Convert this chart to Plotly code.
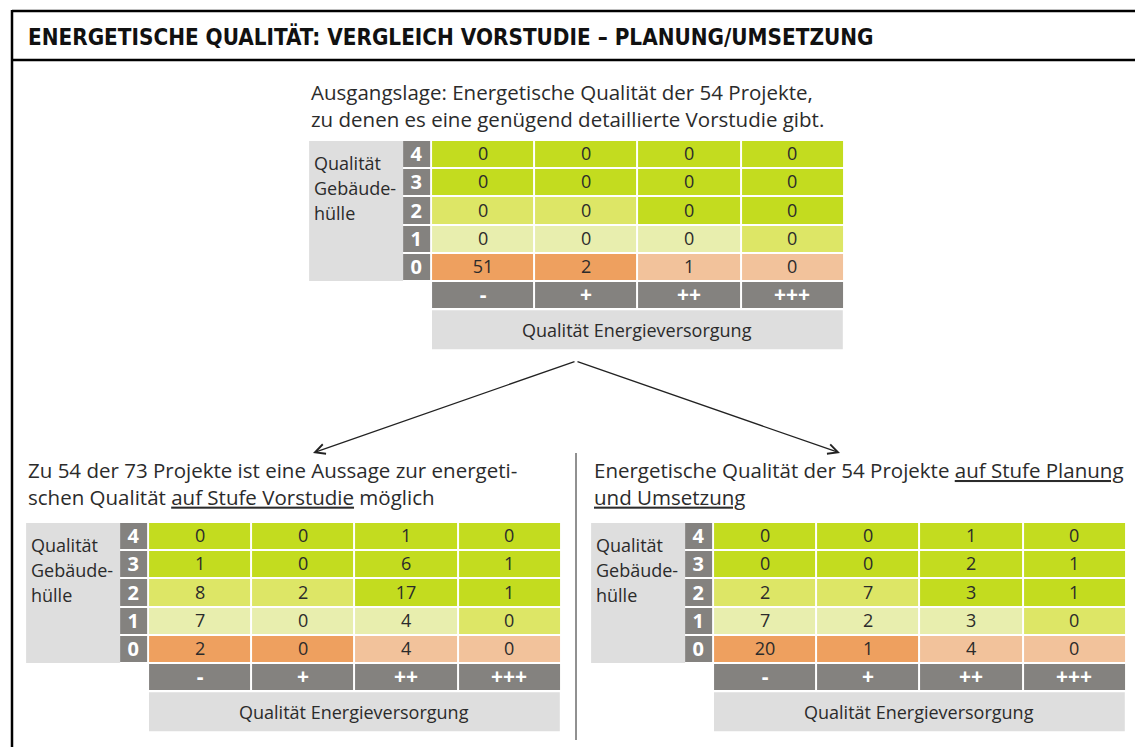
import plotly.graph_objects as go

W, H = 1135, 747

# ---------------- data ----------------
energy_levels = ["-", "+", "++", "+++"]          # Qualität Energieversorgung
envelope_levels = ["4", "3", "2", "1", "0"]      # Qualität Gebäudehülle (top -> bottom)

# counts, rows top (4) -> bottom (0), columns "-", "+", "++", "+++"
counts_ausgangslage = [
    [0, 0, 0, 0],
    [0, 0, 0, 0],
    [0, 0, 0, 0],
    [0, 0, 0, 0],
    [51, 2, 1, 0],
]
counts_vorstudie = [
    [0, 0, 1, 0],
    [1, 0, 6, 1],
    [8, 2, 17, 1],
    [7, 0, 4, 0],
    [2, 0, 4, 0],
]
counts_planung = [
    [0, 0, 1, 0],
    [0, 0, 2, 1],
    [2, 7, 3, 1],
    [7, 2, 3, 0],
    [20, 1, 4, 0],
]

# quality class of each cell (0 = poor ... 4 = very good), same layout
quality_class = [
    [4, 4, 4, 4],
    [4, 4, 4, 4],
    [3, 3, 4, 4],
    [2, 2, 2, 3],
    [0, 0, 1, 1],
]

title_text = "ENERGETISCHE QUALITÄT: VERGLEICH VORSTUDIE – PLANUNG/UMSETZUNG"
caption_top = ["Ausgangslage: Energetische Qualität der 54 Projekte,",
               "zu denen es eine genügend detaillierte Vorstudie gibt."]
caption_left = ["Zu 54 der 73 Projekte ist eine Aussage zur energeti-",
                "schen Qualität <span style='text-decoration:underline'>auf Stufe Vorstudie</span> möglich"]
caption_right = ["Energetische Qualität der 54 Projekte <span style='text-decoration:underline'>auf Stufe Planung</span>",
                 "<span style='text-decoration:underline'>und Umsetzung</span>"]
y_axis_label = ["Qualität", "Gebäude-", "hülle"]
x_axis_label = "Qualität Energieversorgung"

# ---------------- style ----------------
C_ORANGE = "#eea05f"
C_LORANGE = "#f2c29b"
C_LGREEN = "#e8eeae"
C_MGREEN = "#dde666"
C_GREEN = "#c3dc1f"
C_DGRAY = "#84827f"
C_LGRAY = "#dedede"
C_TEXT = "#2b2b2b"
FONT = "Open Sans, Noto Sans, DejaVu Sans, sans-serif"
TITLE_FONT = "DejaVu Sans Condensed, DejaVu Sans, sans-serif"

class_scale = [
    [0.0, C_ORANGE], [0.2, C_ORANGE],
    [0.2, C_LORANGE], [0.4, C_LORANGE],
    [0.4, C_LGREEN], [0.6, C_LGREEN],
    [0.6, C_MGREEN], [0.8, C_MGREEN],
    [0.8, C_GREEN], [1.0, C_GREEN],
]

PITCH_X = 103.2
PITCH_Y = 28.2
LBL_W = 0.28
GRAY_W = 94


def fx(x):
    return x / W


def fy(y):
    return 1 - y / H


fig = go.Figure()
shapes = []
annotations = []

tables = [
    (counts_ausgangslage, 432, 141),
    (counts_vorstudie, 149, 523),
    (counts_planung, 714, 523),
]

for i, (counts, X0, Y0) in enumerate(tables, start=1):
    xa = "x" if i == 1 else f"x{i}"
    ya = "y" if i == 1 else f"y{i}"
    left_px = X0 - 1 - LBL_W * PITCH_X
    right_px = X0 - 1 + 4 * PITCH_X
    top_px = Y0 - 1
    bot_px = top_px + 6 * PITCH_Y
    axkey = "xaxis" if i == 1 else f"xaxis{i}"
    aykey = "yaxis" if i == 1 else f"yaxis{i}"
    fig.update_layout({
        axkey: dict(domain=[fx(left_px), min(1, fx(right_px))], range=[-LBL_W, 4],
                    visible=False, fixedrange=True, anchor=ya),
        aykey: dict(domain=[fy(bot_px), fy(top_px)], range=[-1, 5],
                    visible=False, fixedrange=True, anchor=xa),
    })
    z = quality_class[::-1]
    txt = [[str(v) for v in row] for row in counts[::-1]]
    fig.add_trace(go.Heatmap(
        x=[0, 1, 2, 3, 4], y=[0, 1, 2, 3, 4, 5], z=z, text=txt,
        texttemplate="%{text}", textfont=dict(family=FONT, size=18, color=C_TEXT),
        colorscale=class_scale, zmin=0, zmax=4, showscale=False,
        xgap=2, ygap=2, hoverinfo="skip", xaxis=xa, yaxis=ya))
    # row labels (Gebäudehülle levels)
    fig.add_trace(go.Heatmap(
        x=[-LBL_W, 0], y=[0, 1, 2, 3, 4, 5], z=[[1]] * 5,
        text=[[lv] for lv in envelope_levels[::-1]],
        texttemplate="<b>%{text}</b>", textfont=dict(family=FONT, size=20, color="white"),
        colorscale=[[0, C_DGRAY], [1, C_DGRAY]], showscale=False,
        xgap=2, ygap=2, hoverinfo="skip", xaxis=xa, yaxis=ya))
    # column headers (Energieversorgung levels)
    fig.add_trace(go.Heatmap(
        x=[0, 1, 2, 3, 4], y=[-1, 0], z=[[1, 1, 1, 1]],
        text=[energy_levels],
        texttemplate="<b>%{text}</b>", textfont=dict(family=FONT, size=21, color="white"),
        colorscale=[[0, C_DGRAY], [1, C_DGRAY]], showscale=False,
        xgap=2, ygap=2, hoverinfo="skip", xaxis=xa, yaxis=ya))

    # gray box for y-axis label
    lbl_left = X0 - LBL_W * PITCH_X
    gx1 = lbl_left
    gx0 = gx1 - GRAY_W
    gy0 = Y0
    gy1 = top_px + 5 * PITCH_Y
    shapes.append(dict(type="rect", xref="paper", yref="paper", x0=fx(gx0), x1=fx(gx1),
                       y0=fy(gy1), y1=fy(gy0), fillcolor=C_LGRAY, line_width=0, layer="below"))
    for k, line in enumerate(y_axis_label):
        annotations.append(dict(xref="paper", yref="paper", x=fx(gx0 + 3), y=fy(Y0 + 22 + 25 * k),
                                text=line, showarrow=False, xanchor="left", yanchor="middle",
                                font=dict(family=FONT, size=18, color=C_TEXT)))
    # light gray box for x-axis label
    bx0 = X0
    bx1 = right_px - 1
    by0 = bot_px + 1
    by1 = by0 + 39
    shapes.append(dict(type="rect", xref="paper", yref="paper", x0=fx(bx0), x1=fx(bx1),
                       y0=fy(by1), y1=fy(by0), fillcolor=C_LGRAY, line_width=0, layer="below"))
    annotations.append(dict(xref="paper", yref="paper", x=fx((bx0 + bx1) / 2), y=fy((by0 + by1) / 2),
                            text=x_axis_label, showarrow=False, xanchor="center", yanchor="middle",
                            font=dict(family=FONT, size=18, color=C_TEXT)))

# captions (two lines each, one text block)
for lines, x0, yc in [(caption_top, 309, 105.5),
                      (caption_left, 26, 483),
                      (caption_right, 592, 483)]:
    annotations.append(dict(xref="paper", yref="paper", x=fx(x0), y=fy(yc), text="<br>".join(lines),
                            showarrow=False, xanchor="left", yanchor="middle", align="left",
                            font=dict(family=FONT, size=20.5, color=C_TEXT)))

# title
annotations.append(dict(xref="paper", yref="paper", x=fx(26), y=fy(36), text=title_text,
                        showarrow=False, xanchor="left", yanchor="middle",
                        font=dict(family=TITLE_FONT, size=22.3, color="#111111", weight="bold")))

# arrows
for tip_x in (313, 840):
    annotations.append(dict(xref="paper", yref="paper", x=fx(tip_x), y=fy(453),
                            ax=576 - tip_x, ay=361 - 453, axref="pixel", ayref="pixel",
                            text="", showarrow=True, arrowhead=5, arrowsize=1.5,
                            arrowwidth=1.3, arrowcolor="#222222", standoff=0))

# frame
shapes.append(dict(type="line", xref="paper", yref="paper", x0=fx(12), x1=fx(1136),
                   y0=fy(11), y1=fy(11), line=dict(color="black", width=2.5)))
shapes.append(dict(type="line", xref="paper", yref="paper", x0=fx(12), x1=fx(1136),
                   y0=fy(60), y1=fy(60), line=dict(color="black", width=2.5)))
shapes.append(dict(type="line", xref="paper", yref="paper", x0=fx(12), x1=fx(12),
                   y0=fy(10), y1=fy(750), line=dict(color="black", width=2.5)))
# separator
shapes.append(dict(type="line", xref="paper", yref="paper", x0=fx(576), x1=fx(576),
                   y0=fy(453), y1=fy(740), line=dict(color="#222222", width=1)))

fig.update_layout(
    width=W, height=H,
    margin=dict(l=0, r=0, t=0, b=0),
    paper_bgcolor="white", plot_bgcolor="rgba(0,0,0,0)",
    showlegend=False,
    shapes=shapes, annotations=annotations,
)

fig.write_html("out.html", config={"displayModeBar": False},
               post_script="document.body.style.margin='0px';")
